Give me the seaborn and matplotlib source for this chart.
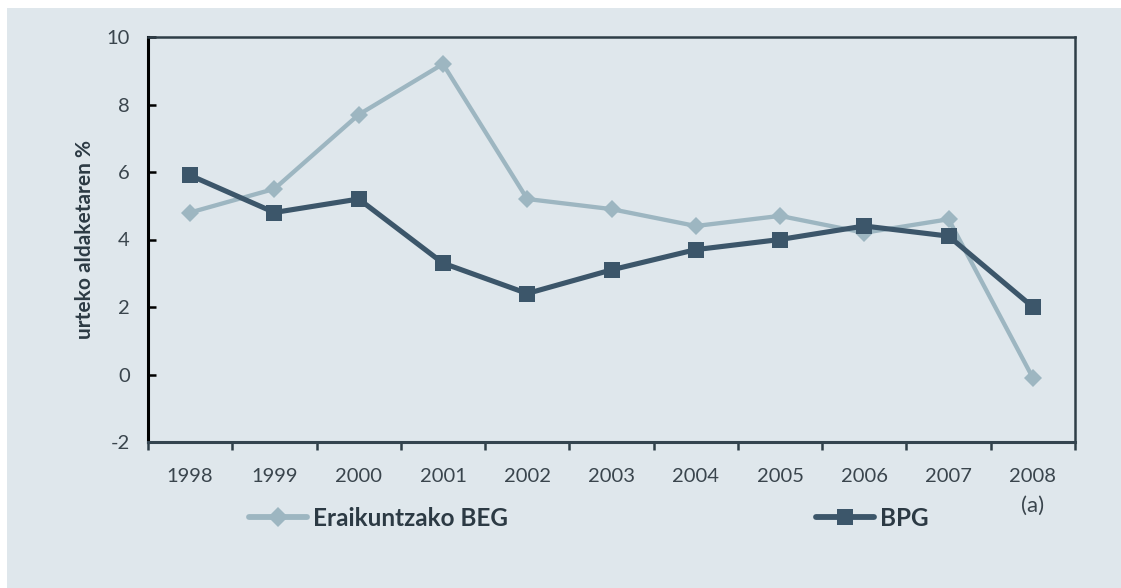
import pandas as pd
import seaborn as sns
import matplotlib.pyplot as plt
from matplotlib.patches import Rectangle
from matplotlib.lines import Line2D
from matplotlib.ticker import FixedLocator

# Data
years = ["1998", "1999", "2000", "2001", "2002", "2003", "2004", "2005", "2006", "2007", "2008"]
beg = [4.8, 5.5, 7.7, 9.2, 5.2, 4.9, 4.4, 4.7, 4.2, 4.6, -0.1]
bpg = [5.9, 4.8, 5.2, 3.3, 2.4, 3.1, 3.7, 4.0, 4.4, 4.1, 2.0]
y_ticks = [-2, 0, 2, 4, 6, 8, 10]

label_beg = "Eraikuntzako BEG"
label_bpg = "BPG"
y_label = "urteko aldaketaren %"
note = "(a)"

light = "#9db6c1"
dark = "#3c566a"
panel = "#dfe7ec"
text_col = "#3a454d"

df = pd.DataFrame({"year": years, "beg": beg, "bpg": bpg})

sns.set_theme(style="white")
plt.rcParams["font.family"] = ["Lato", "DejaVu Sans"]

fig = plt.figure(figsize=(11.21, 5.88), dpi=100)
fig.patch.set_facecolor("white")
fig.patches.append(Rectangle((7 / 1121, 0), 1, 1 - 8 / 588, transform=fig.transFigure,
                             facecolor=panel, edgecolor="none", zorder=-10))

ax = fig.add_axes([148 / 1121, 1 - 442 / 588, 927 / 1121, 405 / 588])
ax.set_facecolor(panel)

sns.lineplot(data=df, x="year", y="beg", ax=ax, color=light, linewidth=3.1,
             marker="D", markersize=9, markeredgewidth=0, sort=False)
sns.lineplot(data=df, x="year", y="bpg", ax=ax, color=dark, linewidth=3.7,
             marker="s", markersize=11, markeredgewidth=0, sort=False)

ax.set_xlim(-0.5, len(years) - 0.5)
ax.set_ylim(-2, 10)
ax.set_yticks(y_ticks)
ax.set_yticklabels([str(v) for v in y_ticks])

# year labels centred, tick marks at the category boundaries
ax.set_xticks(range(len(years)))
ax.set_xticklabels(years)
ax.xaxis.set_minor_locator(FixedLocator([i - 0.5 for i in range(len(years) + 1)]))
ax.tick_params(axis="x", which="major", length=0, pad=19, labelsize=14.5, labelcolor=text_col)
ax.tick_params(axis="x", which="minor", bottom=True, length=5.5, width=1.8,
               color="#2f3e48", direction="out")
ax.tick_params(axis="y", left=True, length=6, width=1.8, color="black",
               direction="in", pad=13, labelsize=14.5, labelcolor=text_col)

ax.set_xlabel("")
ax.set_ylabel(y_label, fontsize=15, fontweight="bold", color="#2c3a44")
ax.yaxis.set_label_coords(-0.057, 0.5)

for side in ["top", "right", "bottom", "left"]:
    ax.spines[side].set_visible(True)
ax.spines["left"].set_color("black")
ax.spines["left"].set_linewidth(2.2)
ax.spines["top"].set_color("#2f3e48")
ax.spines["top"].set_linewidth(1.8)
ax.spines["right"].set_color("#2f3e48")
ax.spines["right"].set_linewidth(1.8)
ax.spines["bottom"].set_color("#34444f")
ax.spines["bottom"].set_linewidth(2.2)

fig.text(1033 / 1121, 1 - 506 / 588, note, ha="center", va="center",
         fontsize=16, color=text_col)

# two separate legend entries, as in the original
h_beg = Line2D([], [], color=light, linewidth=4.2, marker="D", markersize=10, markeredgewidth=0)
h_bpg = Line2D([], [], color=dark, linewidth=4.2, marker="s", markersize=11, markeredgewidth=0)
for h, lab, x0 in [(h_beg, label_beg, 249), (h_bpg, label_bpg, 816)]:
    leg = fig.legend(handles=[h], labels=[lab], loc="center left",
                     bbox_to_anchor=(x0 / 1121, 1 - 518 / 588), frameon=False,
                     borderpad=0, borderaxespad=0, handlelength=2.4, handletextpad=0.25,
                     prop={"size": 17.5, "weight": "bold"})
    for t in leg.get_texts():
        t.set_color("#2c3a44")

fig.savefig("out.png", dpi=100, facecolor=fig.get_facecolor())
